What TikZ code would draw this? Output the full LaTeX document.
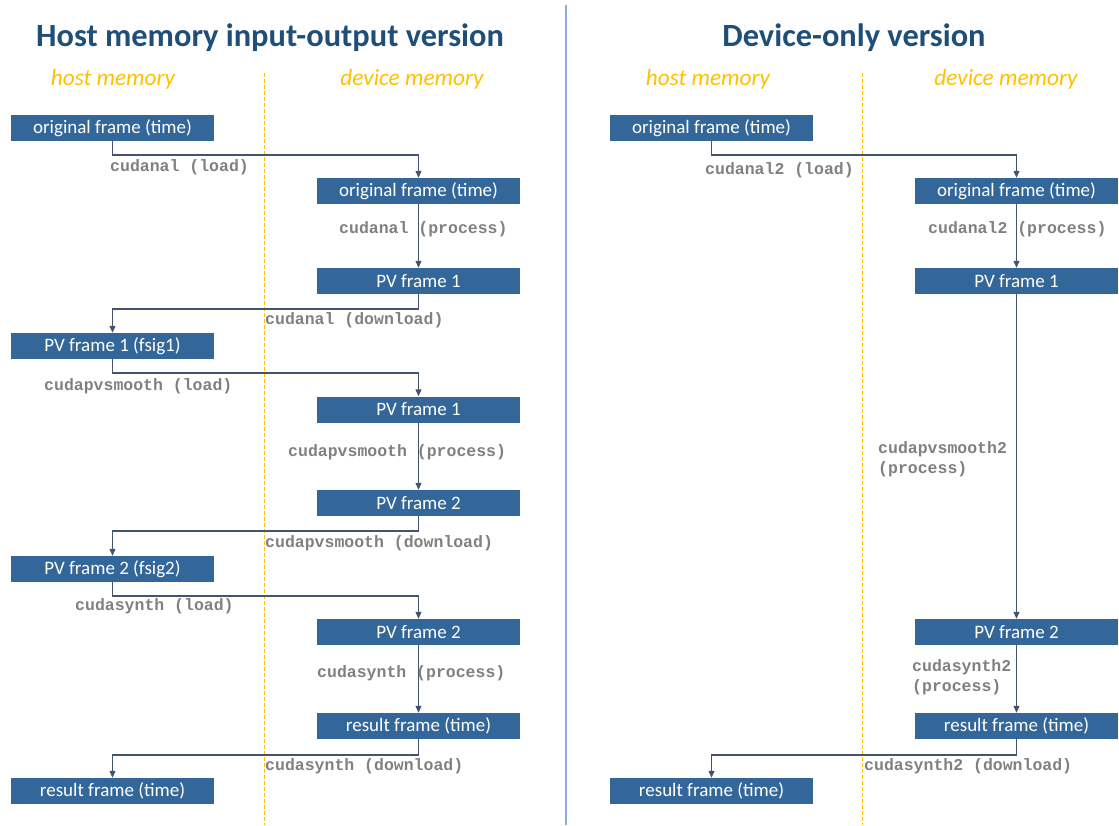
\documentclass[tikz,border=0pt]{standalone}
\usepackage{fontspec}
\setmainfont{Carlito}
\newfontfamily\codefont{Liberation Mono}
\usetikzlibrary{arrows.meta}
\definecolor{boxblue}{HTML}{336699}
\definecolor{titleblue}{HTML}{1F4E79}
\definecolor{memgold}{HTML}{FFC000}
\definecolor{codegray}{HTML}{808080}
\definecolor{linkgray}{HTML}{44546A}
\definecolor{splitblue}{HTML}{8FAADC}

\tikzset{
	framebox/.style={fill=boxblue, text=white, minimum width=203pt, minimum height=26pt, inner sep=0pt, font=\fontsize{19}{21}\selectfont},
	heading/.style={text=titleblue, font=\fontsize{32.4}{36}\selectfont\bfseries},
	memlabel/.style={text=memgold, font=\fontsize{23.3}{26}\selectfont\itshape},
	calllabel/.style={text=codegray, font=\codefont\bfseries\fontsize{16.5}{20}\selectfont, inner sep=0pt, anchor=west, align=left},
	flow/.style={draw=linkgray, line width=1.2pt, -{Triangle[length=7pt,width=6pt]}},
	memsplit/.style={draw=memgold, line width=1pt, dash pattern=on 4pt off 2pt},
}

\begin{document}
\begin{tikzpicture}[x=1pt, y=-1pt]
			%%%%% START %%%%%
			
			\useasboundingbox (0,0) rectangle (1119,825);
			
			%%%%% host memory input-output version
			\node[heading] (t1) at (270,38) {Host memory input-output version};
			\node[memlabel] (h1) at (113,79) {host memory};
			\node[memlabel] (d1) at (412,79) {device memory};
			\draw[memsplit] (264,73) -- (264,825);
			
			\node[framebox] (a1) at (112.5,128) {original frame (time)};
			\node[framebox] (a2) at (418.5,191) {original frame (time)};
			\node[framebox] (a3) at (418.5,281) {PV frame 1};
			\node[framebox] (a4) at (112.5,346) {PV frame 1 (fsig1)};
			\node[framebox] (a5) at (418.5,409.5) {PV frame 1};
			\node[framebox] (a6) at (418.5,503) {PV frame 2};
			\node[framebox] (a7) at (112.5,569) {PV frame 2 (fsig2)};
			\node[framebox] (a8) at (418.5,632) {PV frame 2};
			\node[framebox] (a9) at (418.5,726) {result frame (time)};
			\node[framebox] (a10) at (112.5,791) {result frame (time)};
			
			\draw[flow] (a1) -- ++(0,27) -| (a2);
			\draw[flow] (a2) -- (a3);
			\draw[flow] (a3) -- ++(0,28) -| (a4);
			\draw[flow] (a4) -- ++(0,27) -| (a5);
			\draw[flow] (a5) -- (a6);
			\draw[flow] (a6) -- ++(0,28) -| (a7);
			\draw[flow] (a7) -- ++(0,27) -| (a8);
			\draw[flow] (a8) -- (a9);
			\draw[flow] (a9) -- ++(0,29) -| (a10);
			
			\node[calllabel] (c1) at (110,167) {cudanal (load)};
			\node[calllabel] (c2) at (339,229) {cudanal (process)};
			\node[calllabel] (c3) at (265,320) {cudanal (download)};
			\node[calllabel] (c4) at (44,386) {cudapvsmooth (load)};
			\node[calllabel] (c5) at (288,452) {cudapvsmooth (process)};
			\node[calllabel] (c6) at (265,543) {cudapvsmooth (download)};
			\node[calllabel] (c7) at (75,606) {cudasynth (load)};
			\node[calllabel] (c8) at (317,673) {cudasynth (process)};
			\node[calllabel] (c9) at (265,766) {cudasynth (download)};
			
			\draw[splitblue, line width=1.5pt] (566,5) -- (566,825);
			
			%%%%% device-only version
			\node[heading] (t2) at (854,38) {Device-only version};
			\node[memlabel] (h2) at (708,79) {host memory};
			\node[memlabel] (d2) at (1006,79) {device memory};
			\draw[memsplit] (862,73) -- (862,825);
			
			\node[framebox] (b1) at (711.5,128) {original frame (time)};
			\node[framebox] (b2) at (1016.5,191) {original frame (time)};
			\node[framebox] (b3) at (1016.5,281) {PV frame 1};
			\node[framebox] (b4) at (1016.5,632) {PV frame 2};
			\node[framebox] (b5) at (1016.5,726) {result frame (time)};
			\node[framebox] (b6) at (711.5,791) {result frame (time)};
			
			\draw[flow] (b1) -- ++(0,27) -| (b2);
			\draw[flow] (b2) -- (b3);
			\draw[flow] (b3) -- (b4);
			\draw[flow] (b4) -- (b5);
			\draw[flow] (b5) -- ++(0,29) -| (b6);
			
			\node[calllabel] (e1) at (705,170) {cudanal2 (load)};
			\node[calllabel] (e2) at (928,229) {cudanal2 (process)};
			\node[calllabel] (e3) at (878,459) {cudapvsmooth2\\(process)};
			\node[calllabel] (e4) at (912,677) {cudasynth2\\(process)};
			\node[calllabel] (e5) at (864,766) {cudasynth2 (download)};
			
			%%%%% END %%%%%
\end{tikzpicture}
\end{document}
